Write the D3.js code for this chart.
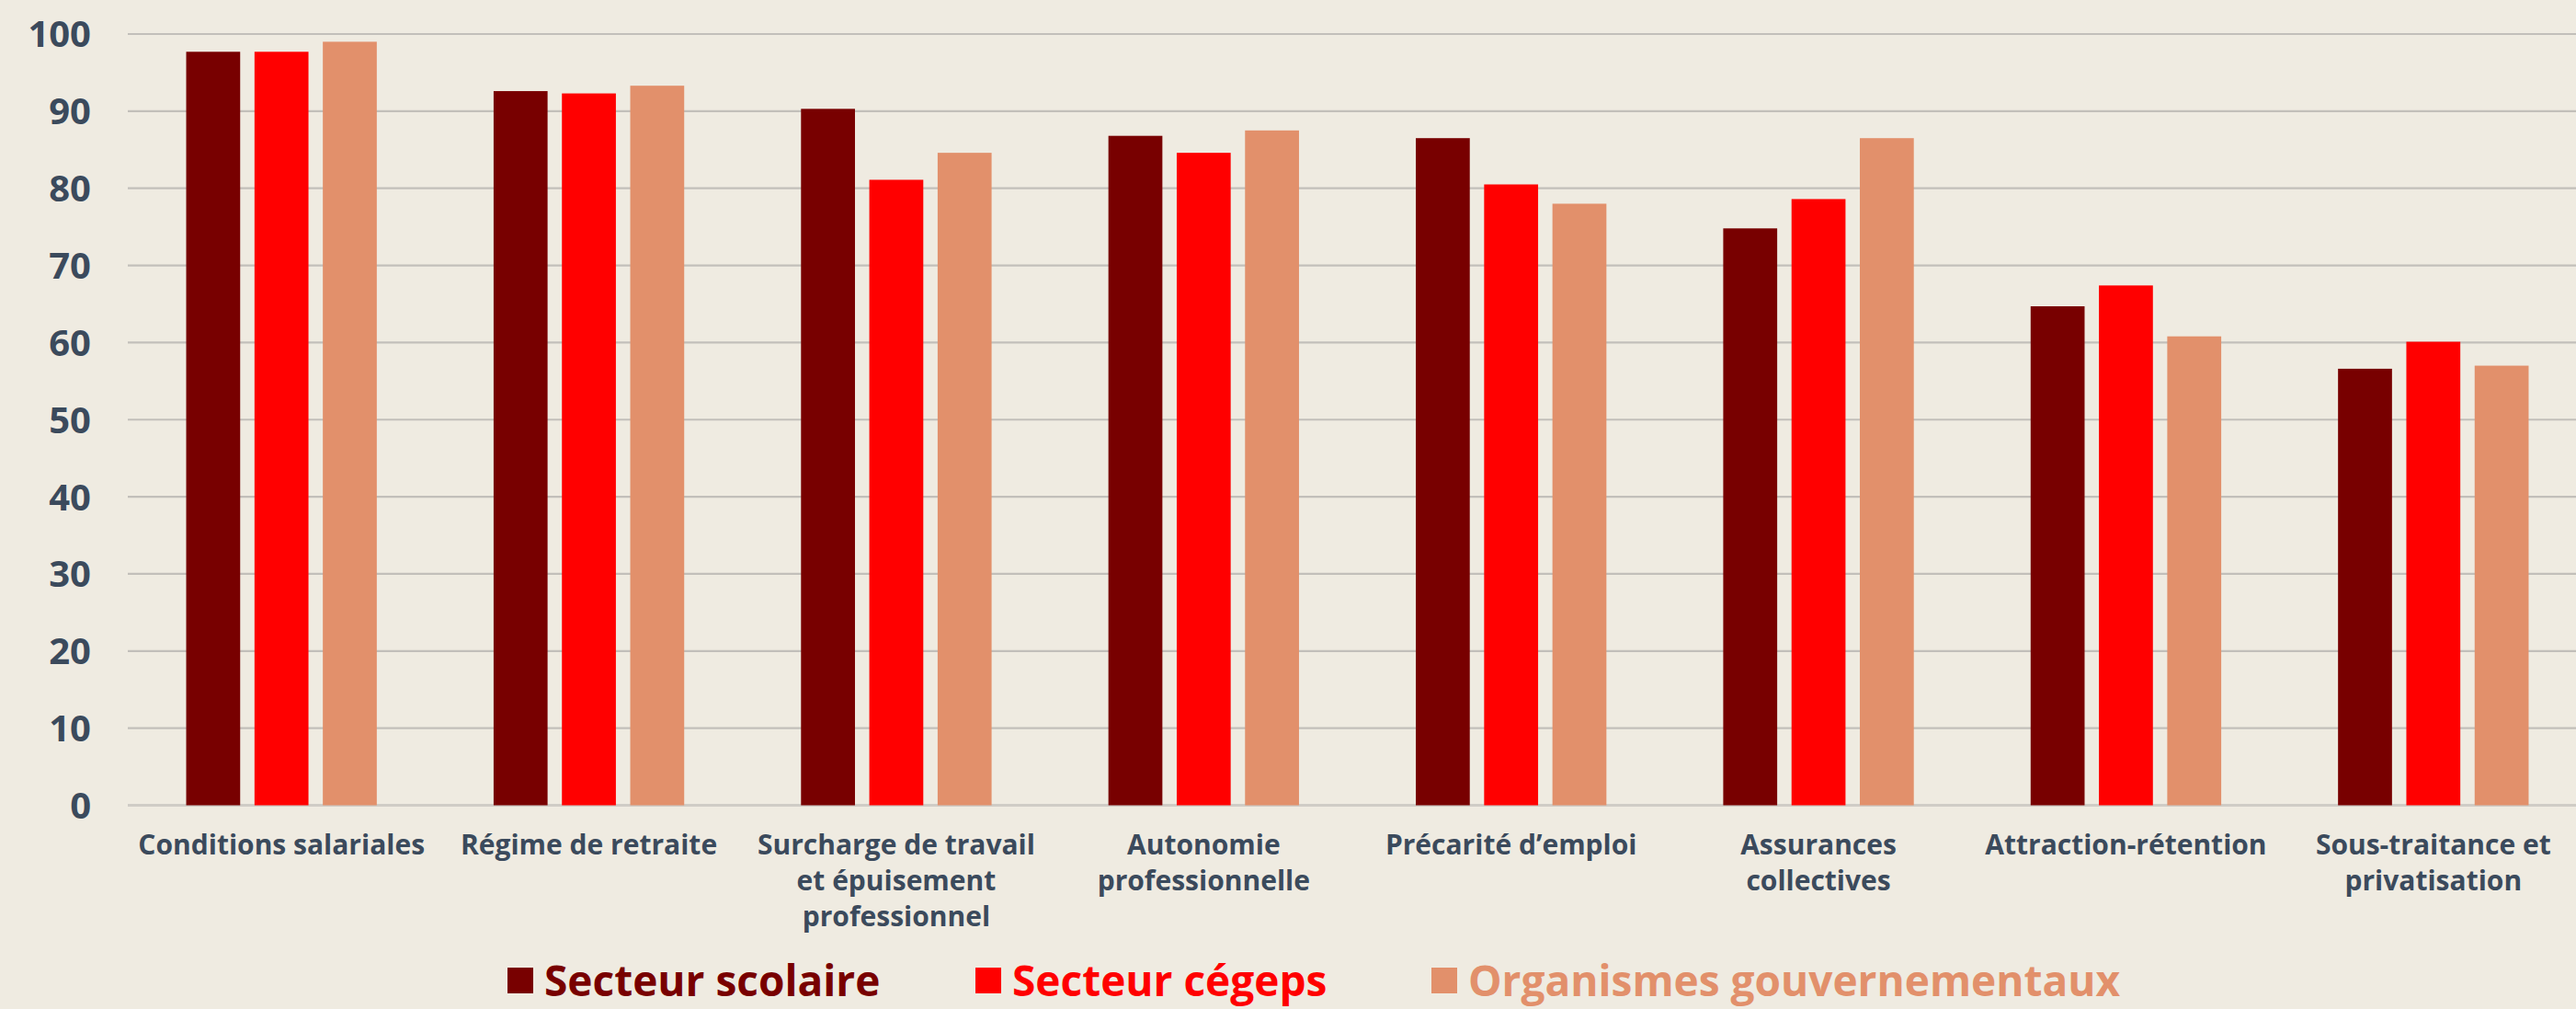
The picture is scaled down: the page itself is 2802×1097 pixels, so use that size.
<!DOCTYPE html>
<html lang="fr">
<head>
    <meta charset="UTF-8">
    <title>Chart</title>
    <script src="https://cdn.jsdelivr.net/npm/d3@7/dist/d3.min.js"></script>
    <style>
        html, body { margin: 0; padding: 0; background: #efebe1; }
        svg { display: block; font-family: "Open Sans", Lato, sans-serif; font-weight: 700; }
    </style>
</head>
<body>
    <script>
        // categories (x axis), one label line per array item
        var categories = [
            ["Conditions salariales"],
            ["Régime de retraite"],
            ["Surcharge de travail", "et épuisement", "professionnel"],
            ["Autonomie", "professionnelle"],
            ["Précarité d’emploi"],
            ["Assurances", "collectives"],
            ["Attraction-rétention"],
            ["Sous-traitance et", "privatisation"]
        ];
        var seriesNames = ["Secteur scolaire", "Secteur cégeps", "Organismes gouvernementaux"];
        var scolaire = [97.7, 92.6, 90.3, 86.8, 86.5, 74.8, 64.7, 56.6];
        var cegeps   = [97.7, 92.3, 81.1, 84.6, 80.5, 78.6, 67.4, 60.1];
        var organismes = [99.0, 93.3, 84.6, 87.5, 78.0, 86.5, 60.8, 57.0];
        var yTicks = [0, 10, 20, 30, 40, 50, 60, 70, 80, 90, 100];
        var colors = ["#780000", "#ff0000", "#e2906b"];

        var W = 2802, H = 1097;
        var allSeries = [scolaire, cegeps, organismes];
        var rows = categories.map(function(c, i) {
            return { key: i, values: allSeries.map(function(s, j) { return { s: j, v: s[i] }; }) };
        });

        var svg = d3.select("body").append("svg")
            .attr("width", W)
            .attr("height", H);

        svg.append("rect").attr("width", W).attr("height", H).attr("fill", "#efebe1");

        var y = d3.scaleLinear().domain([0, 100]).range([875.5, 37]);
        var x0 = d3.scaleBand()
            .domain(d3.range(categories.length))
            .range([139, 2814])
            .paddingInner(0.38)
            .paddingOuter(0.19);
        var x1 = d3.scaleBand()
            .domain(d3.range(seriesNames.length))
            .range([0, x0.bandwidth()])
            .paddingInner(0.21);

        // gridlines
        svg.append("g").selectAll("line")
            .data(yTicks)
            .enter()
            .append("line")
            .attr("x1", 139)
            .attr("x2", W)
            .attr("y1", function(d) { return y(d); })
            .attr("y2", function(d) { return y(d); })
            .attr("stroke", function(d) { return d === 0 ? "#cfccc6" : "#c2bfba"; })
            .attr("stroke-width", function(d) { return d === 0 ? 3 : 2.2; });

        // y labels
        svg.append("g").selectAll("text")
            .data(yTicks)
            .enter()
            .append("text")
            .attr("x", 99)
            .attr("y", function(d) { return y(d); })
            .attr("dy", "0.36em")
            .attr("text-anchor", "end")
            .attr("font-size", "40px")
            .attr("fill", "#3b4a5c")
            .text(function(d) { return d; });

        // bars
        var groups = svg.append("g").selectAll("g")
            .data(rows)
            .enter()
            .append("g")
            .attr("transform", function(d) { return "translate(" + x0(d.key) + ",0)"; });

        groups.selectAll("rect")
            .data(function(d) { return d.values; })
            .enter()
            .append("rect")
            .attr("x", function(d) { return x1(d.s); })
            .attr("width", x1.bandwidth())
            .attr("y", function(d) { return y(d.v); })
            .attr("height", function(d) { return y(0) - y(d.v); })
            .attr("fill", function(d) { return colors[d.s]; });

        // x labels
        var xl = svg.append("g").selectAll("text")
            .data(categories)
            .enter()
            .append("text")
            .attr("text-anchor", "middle")
            .attr("font-size", "30px")
            .attr("fill", "#3b4a5c")
            .attr("x", function(d, i) { return x0(i) + x0.bandwidth() / 2; })
            .attr("y", 929);
        xl.selectAll("tspan")
            .data(function(d, i) { return d.map(function(t) { return { t: t, i: i }; }); })
            .enter()
            .append("tspan")
            .attr("x", function(d) { return x0(d.i) + x0.bandwidth() / 2; })
            .attr("dy", function(d, k) { return k === 0 ? 0 : 39; })
            .text(function(d) { return d.t; });

        // legend
        var legendX = [552, 1061, 1557];
        var legend = svg.append("g").selectAll("g")
            .data(seriesNames)
            .enter()
            .append("g")
            .attr("transform", function(d, i) { return "translate(" + legendX[i] + ",0)"; });
        legend.append("rect")
            .attr("x", 0)
            .attr("y", 1052)
            .attr("width", 28)
            .attr("height", 28)
            .attr("fill", function(d, i) { return colors[i]; });
        legend.append("text")
            .attr("x", 40)
            .attr("y", 1083)
            .attr("font-size", "46px")
            .attr("fill", function(d, i) { return colors[i]; })
            .text(function(d) { return d; });
    </script>
</body>
</html>
